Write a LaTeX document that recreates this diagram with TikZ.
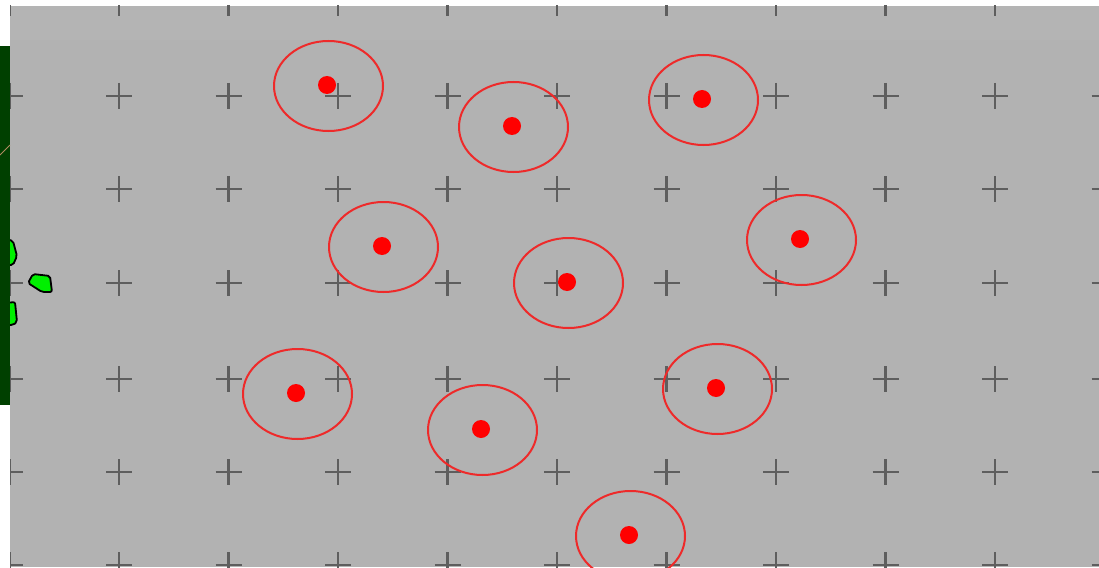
\documentclass[tikz,border=0pt]{standalone}
\usetikzlibrary{shapes.geometric}

\definecolor{field}{HTML}{B2B2B2}
\definecolor{fieldtop}{HTML}{B4B4B4}
\definecolor{gridmark}{HTML}{5E5E5E}
\definecolor{hitred}{HTML}{FF0000}
\definecolor{ringred}{HTML}{EE2A2A}
\definecolor{panel}{HTML}{004000}
\definecolor{blob}{HTML}{00F000}
\definecolor{wire}{HTML}{B08A60}

\begin{document}
\begin{tikzpicture}[x=1pt, y=-1pt,
    target/.style={circle, fill=hitred, inner sep=0pt, minimum size=18pt},
    zone/.style={ellipse, draw=ringred, line width=2pt, inner sep=0pt,
                 minimum width=109pt, minimum height=90pt},
    gridcross/.style={draw=gridmark, line width=2.1pt},
    piece/.style={fill=blob, draw=black, line width=1.8pt, rounded corners=2pt}]
  \useasboundingbox (0,0) rectangle (1099,567);

  % playing field
  \fill[field] (10,6) rectangle (1099,567);
  \fill[fieldtop] (10,6) rectangle (1099,40);

  % grid of crosses
  \begin{scope}
    \clip (10,6) rectangle (1099,567);
    \foreach \gx in {0,...,10}
      \foreach \gy in {3,96,189,283,379,472,565} {
        \draw[gridcross] (9.5+109.5*\gx-13,\gy) -- ++(26,0);
        \draw[gridcross] (9.5+109.5*\gx,\gy-13) -- ++(0,26);
      }
  \end{scope}

  % green pieces at the left edge
  \filldraw[piece]
    (28,283) -- (33,274) -- (50,276) -- (52,292) -- (42,292) -- cycle;
  \filldraw[piece]
    (6,239) -- (13,241) -- (17,256) -- (13,265) -- (6,265) -- cycle;
  \filldraw[piece]
    (6,303) -- (15,302) -- (17,322) -- (13,325) -- (6,325) -- cycle;

  % side panel
  \fill[panel] (0,46) rectangle (10,405);
  \draw[wire, line width=1pt] (0,155) -- (10,145);

  % targets and their zones
  \foreach \n/\px/\py in {1/327/85, 2/512/126, 3/702/99, 4/382/246,
                          5/800/239, 6/567/282, 7/296/393, 8/716/388,
                          9/481/429, 10/629/535} {
    \node[target] (t\n) at (\px,\py) {};
    \node[zone] (z\n) at ([shift={(1.5,1)}]t\n) {};
  }
\end{tikzpicture}
\end{document}
